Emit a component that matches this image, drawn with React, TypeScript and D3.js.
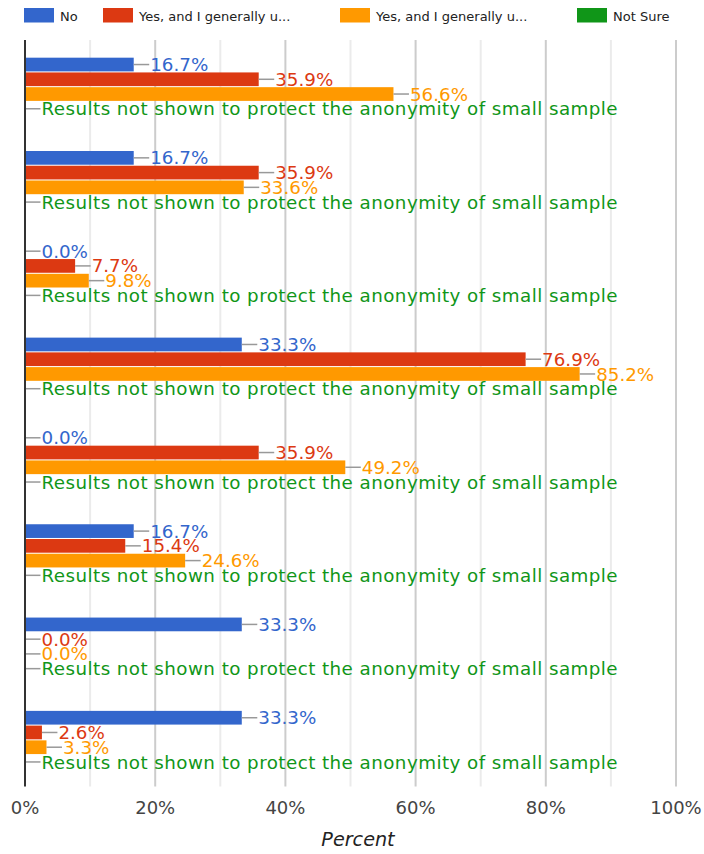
import React from "react";
import * as d3 from "d3";

const categories = ["Item 1", "Item 2", "Item 3", "Item 4", "Item 5", "Item 6", "Item 7", "Item 8"];
const seriesNames = ["No", "Yes, and I generally u...", "Yes, and I generally u...", "Not Sure"];
const seriesColors = ["#3366cc", "#dc3912", "#ff9900", "#109618"];
const noValues = [16.7, 16.7, 0.0, 33.3, 0.0, 16.7, 33.3, 33.3];
const yes1Values = [35.9, 35.9, 7.7, 76.9, 35.9, 15.4, 0.0, 2.6];
const yes2Values = [56.6, 33.6, 9.8, 85.2, 49.2, 24.6, 0.0, 3.3];
const notSureValues: (number | null)[] = [null, null, null, null, null, null, null, null];
const hiddenText = "Results not shown to protect the anonymity of small sample";
const majorTicks = [0, 20, 40, 60, 80, 100];
const minorTicks = [10, 30, 50, 70, 90];
const legendX = [24, 103, 340, 577];
const axisTitle = "Percent";

const W = 704;
const H = 854;
const FONT = "'DejaVu Sans', sans-serif";

export default function App() {
  const x = d3.scaleLinear().domain([0, 100]).range([25, 676]);
  const y = d3.scaleBand<string>().domain(categories).range([40, 786.5]).padding(0);
  const step = y.bandwidth();
  const groupFrac = 0.632;
  const inner = d3
    .scaleBand<number>()
    .domain([0, 1, 2, 3])
    .range([(step * (1 - groupFrac)) / 2, (step * (1 + groupFrac)) / 2])
    .paddingInner(0.07)
    .paddingOuter(0.035);
  const series = [noValues, yes1Values, yes2Values, notSureValues];
  const bh = inner.bandwidth();
  const annFs = 18.3;

  return (
    <svg
      width={W}
      height={H}
      style={{ position: "absolute", left: 0, top: 0, background: "#fff" }}
      fontFamily={FONT}
    >
      <rect x={0} y={0} width={W} height={H} fill="#fff" />
      {/* legend */}
      {seriesNames.map((n, i) => (
        <g key={"lg" + i}>
          <rect x={legendX[i]} y={8} width={30} height={14.5} fill={seriesColors[i]} />
          <text x={legendX[i] + 36} y={20.5} fontSize={13} fill="#222">
            {n}
          </text>
        </g>
      ))}
      {/* gridlines */}
      {minorTicks.map((t) => (
        <line key={"mi" + t} x1={x(t)} x2={x(t)} y1={40} y2={786.5} stroke="#ebebeb" strokeWidth={2} />
      ))}
      {majorTicks.slice(1).map((t) => (
        <line key={"ma" + t} x1={x(t)} x2={x(t)} y1={40} y2={786.5} stroke="#cccccc" strokeWidth={2} />
      ))}
      {/* bars */}
      {categories.map((c, ci) => {
        const g0 = y(c)!;
        return (
          <g key={"g" + ci}>
            {series.map((vals, si) => {
              const v = vals[ci];
              const by = g0 + inner(si)!;
              const cy = by + bh / 2;
              const end = v == null ? x(0) : x(v);
              const label = v == null ? hiddenText : v.toFixed(1) + "%";
              return (
                <g key={"b" + si}>
                  {v != null && v > 0 && (
                    <rect x={x(0)} y={by} width={end - x(0)} height={bh} fill={seriesColors[si]} />
                  )}
                  <line x1={end} x2={end + 15.5} y1={cy} y2={cy} stroke="#999" strokeWidth={1.5} />
                  <text
                    x={end + 16.5}
                    y={cy + annFs * 0.36}
                    fontSize={annFs}
                    fill={seriesColors[si]}
                    letterSpacing={v == null ? 0.44 : 0}
                  >
                    {label}
                  </text>
                </g>
              );
            })}
          </g>
        );
      })}
      {/* zero axis */}
      <line x1={x(0)} x2={x(0)} y1={40} y2={786.5} stroke="#333" strokeWidth={2} />
      {/* tick labels */}
      {majorTicks.map((t) => (
        <text key={"tl" + t} x={x(t)} y={814} fontSize={18} fill="#444" textAnchor="middle">
          {t + "%"}
        </text>
      ))}
      <text x={358} y={846} fontSize={19.2} fill="#222" fontStyle="italic" textAnchor="middle">
        {axisTitle}
      </text>
    </svg>
  );
}
